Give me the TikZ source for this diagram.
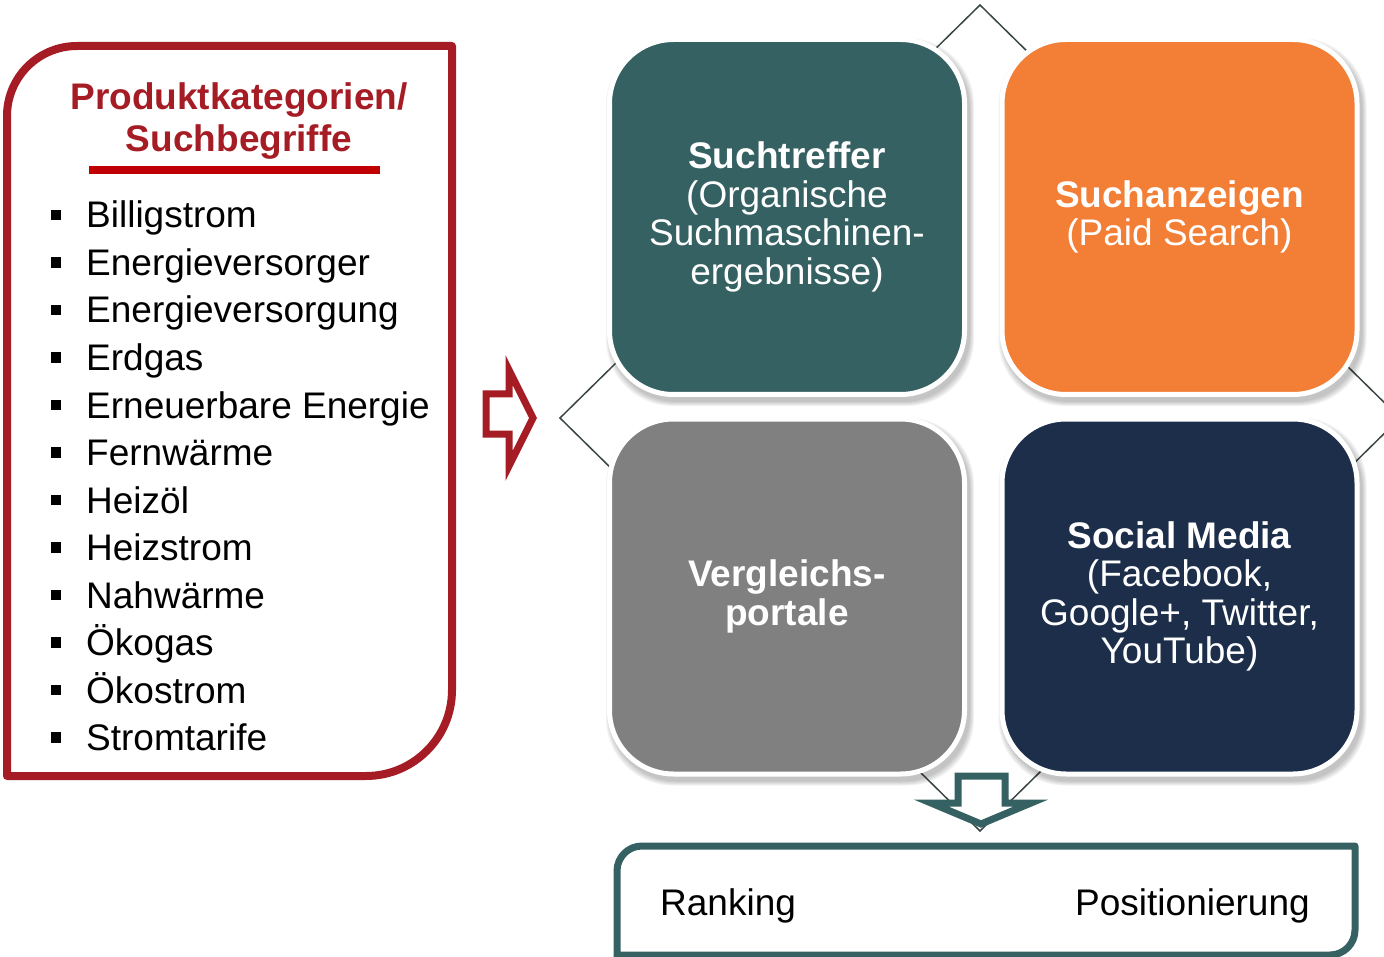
\documentclass[tikz,border=0pt]{standalone}
\usepackage{fontspec}
\setmainfont{Liberation Sans}
\usetikzlibrary{backgrounds,calc}
\definecolor{dred}{HTML}{A51C24}
\definecolor{bred}{HTML}{C00000}
\definecolor{tealc}{HTML}{356163}
\definecolor{orngc}{HTML}{F37E36}
\definecolor{gryc}{HTML}{808080}
\definecolor{navyc}{HTML}{1C2E4A}
\definecolor{dline}{HTML}{3A4646}
\begin{document}
\begin{tikzpicture}[x=1pt,y=-1pt,
  item/.style={anchor=base west, inner sep=0, font=\fontsize{37}{44}\selectfont},
  titl/.style={anchor=base, inner sep=0, text=dred, font=\fontsize{37}{41}\selectfont\bfseries},
  bul/.style={fill=black, minimum size=10.5, inner sep=0},
  quad/.style={draw=white, line width=5, rounded corners=64, minimum width=355, minimum height=355,
     inner sep=0, text=white, align=center, font=\fontsize{37}{38.5}\selectfont},
  plain/.style={anchor=base west, inner sep=0, font=\fontsize{37}{44}\selectfont},
  ]
\useasboundingbox (0,0) rectangle (1384,957);

% left box
\draw[dred, line width=8, line join=round]
  (7,776) -- (7,116) arc[start angle=180, end angle=270, radius=70]
  -- (452,46) -- (452,690) arc[start angle=0, end angle=90, radius=86] -- cycle;
\node[titl] (t1) at (239,110) {Produktkategorien/};
\node[titl] (t2) at (239,152) {Suchbegriffe};
\fill[bred] (89,166) rectangle (380,174);

\foreach \txt [count=\i from 0] in {Billigstrom,Energieversorger,Energieversorgung,Erdgas,Erneuerbare Energie,Fernwärme,Heizöl,Heizstrom,Nahwärme,Ökogas,Ökostrom,Stromtarife}{
  \node[item] (it\i) at (86,{228+47.5*\i}) {\txt};
  \node[bul] (b\i) at (56,{215+47.5*\i}) {};
}

% left block arrow
\draw[dred, line width=7, fill=white, line join=miter]
  (486,394) -- (509,394) -- (509,370) -- (533,418) -- (509,466) -- (509,434) -- (486,434) -- cycle;

% four boxes
\node[quad, fill=tealc] (tl) at (787,217) {{\bfseries Suchtreffer}\\(Organische\\Suchmaschinen-\\ergebnisse)};
\node[quad, fill=orngc] (tr) at (1179.5,217) {{\bfseries Suchanzeigen}\\(Paid Search)};
\node[quad, fill=gryc] (bl) at (787,596.5) {\bfseries Vergleichs-\\\bfseries portale};
\node[quad, fill=navyc] (br) at (1179.5,596.5) {{\bfseries Social Media}\\(Facebook,\\Google+, Twitter,\\YouTube)};

\begin{scope}[on background layer]
  \draw[dline, line width=1.5] (980,5) -- (1400,418) -- (980,831) -- (560,418) -- cycle;
  \foreach \n in {tl,tr,bl,br}{
    \foreach \k in {0,1,2,3,4}{
      \fill[black, opacity=0.05, rounded corners=67]
        ($(\n.north west)+(3-\k,5-\k)$) rectangle ($(\n.south east)+(3+\k,5+\k)$);
    }
  }
\end{scope}

% down block arrow
\draw[tealc, line width=7, fill=white, line join=miter]
  (958,776) -- (1005,776) -- (1005,803) -- (1031,803) -- (981,824) -- (931,803) -- (958,803) -- cycle;

% bottom box
\draw[tealc, line width=7, line join=round]
  (617,965) -- (617,871) arc[start angle=180, end angle=270, radius=25]
  -- (1355,846) -- (1355,930) arc[start angle=0, end angle=90, radius=25] -- (617,955);
\node[plain] (rank) at (660,915) {Ranking};
\node[plain] (pos) at (1075,915) {Positionierung};
\end{tikzpicture}
\end{document}
